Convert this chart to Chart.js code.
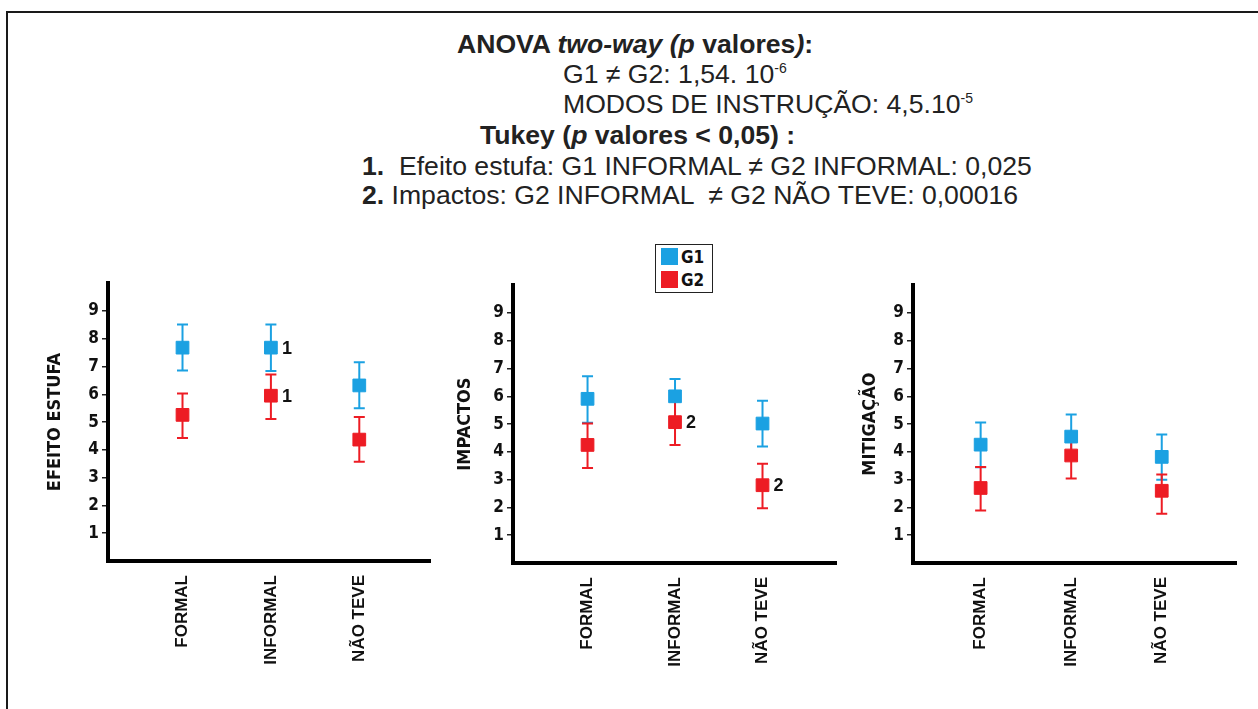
<!DOCTYPE html>
<html lang="pt">
<head>
<meta charset="utf-8">
<title>ANOVA two-way</title>
<script src="https://cdn.jsdelivr.net/npm/chart.js@4.4.1/dist/chart.umd.min.js"></script>
<style>
  html, body { margin: 0; padding: 0; background: #fff; }
  #page { position: relative; width: 1258px; height: 709px; overflow: hidden; background: #fff; }
  #frame { position: absolute; left: 6px; top: 11px; width: 1300px; height: 760px; border: 2px solid #1a1a1a; }
  .line { position: absolute; white-space: pre; font-family: 'Liberation Sans', Arial, sans-serif; font-size: 26.6px; color: #222; line-height: 30px; }
  .line b { font-weight: bold; }
  .line sup { font-size: 14px; vertical-align: 0; position: relative; top: -10px; }
  #legend { position: absolute; left: 655px; top: 244px; width: 56px; height: 47px; border: 1.5px solid #222; }
  .item { position: absolute; left: 5px; height: 18px; font: bold 17px 'Liberation Sans Narrow', 'DejaVu Sans Condensed', sans-serif; color: #111; line-height: 18px; }
  .item span { display: inline-block; width: 17px; height: 17px; vertical-align: top; margin-right: 3px; }
  canvas { position: absolute; }
</style>
</head>
<body>
<div id="page">
  <div id="frame"></div>
  <div class="line" style="left:457px; top:29px;"><b>ANOVA <i>two-way (p</i> valores<i>)</i>:</b></div>
  <div class="line" style="left:563px; top:59px;">G1 ≠ G2: 1,54. 10<sup>-6</sup></div>
  <div class="line" style="left:563px; top:89px;">MODOS DE INSTRUÇÃO: 4,5.10<sup>-5</sup></div>
  <div class="line" style="left:480px; top:120px;"><b>Tukey (<i>p</i> valores &lt; 0,05) :</b></div>
  <div class="line" style="left:362px; top:151px;"><b>1.</b>  Efeito estufa: G1 INFORMAL ≠ G2 INFORMAL: 0,025</div>
  <div class="line" style="left:362px; top:180px;"><b>2.</b> Impactos: G2 INFORMAL  ≠ G2 NÃO TEVE: 0,00016</div>
  <div id="legend"></div>
  <canvas id="efeito" width="412" height="420" style="left:28px; top:270px;"></canvas>
  <canvas id="impactos" width="413" height="420" style="left:433px; top:272px;"></canvas>
  <canvas id="mitigacao" width="413" height="420" style="left:833px; top:272px;"></canvas>
</div>
<script>
var categories = ['FORMAL', 'INFORMAL', 'NÃO TEVE'];
var seriesNames = ['G1', 'G2'];
var seriesColors = ['#1ba1e2', '#ed1c24'];

// EFEITO ESTUFA: means and error bar ends
var efeitoG1 = [7.68, 7.68, 6.32];
var efeitoG1Low = [6.86, 6.84, 5.50];
var efeitoG1High = [8.51, 8.51, 7.15];
var efeitoG2 = [5.26, 5.95, 4.37];
var efeitoG2Low = [4.43, 5.11, 3.57];
var efeitoG2High = [6.03, 6.71, 5.18];

// IMPACTOS
var impactosG1 = [5.91, 6.00, 5.02];
var impactosG1Low = [5.05, 5.20, 4.19];
var impactosG1High = [6.72, 6.62, 5.84];
var impactosG2 = [4.25, 5.07, 2.80];
var impactosG2Low = [3.42, 4.25, 1.97];
var impactosG2High = [5.02, 5.84, 3.57];

// MITIGAÇÃO
var mitigacaoG1 = [4.26, 4.55, 3.82];
var mitigacaoG1Low = [3.45, 3.75, 3.00];
var mitigacaoG1High = [5.06, 5.35, 4.63];
var mitigacaoG2 = [2.70, 3.87, 2.60];
var mitigacaoG2Low = [1.89, 3.04, 1.77];
var mitigacaoG2High = [3.46, 4.68, 3.19];

// Tukey labels next to the points
var efeitoMarksG1 = ['', '1', ''];
var efeitoMarksG2 = ['', '1', ''];
var impactosMarksG1 = ['', '', ''];
var impactosMarksG2 = ['', '2', '2'];
var mitigacaoMarksG1 = ['', '', ''];
var mitigacaoMarksG2 = ['', '', ''];

var yTicks = [1, 2, 3, 4, 5, 6, 7, 8, 9];
var narrow = "'Liberation Sans Narrow', 'DejaVu Sans Condensed', sans-serif";

// legend
var legend = document.getElementById('legend');
seriesNames.forEach(function (name, i) {
    var d = document.createElement('div');
    d.className = 'item';
    d.style.top = (3 + i * 23) + 'px';
    d.innerHTML = '<span style="background:' + seriesColors[i] + '"></span>' + name;
    legend.appendChild(d);
});

// vertical error bars, drawn under the markers
var errorBars = {
    id: 'errorBars',
    beforeDatasetsDraw: function (chart) {
        var ctx = chart.ctx, x = chart.scales.x, y = chart.scales.y;
        chart.data.datasets.forEach(function (ds) {
            ctx.save();
            ctx.strokeStyle = ds.borderColor;
            ctx.lineWidth = 2;
            ds.data.forEach(function (p) {
                var px = x.getPixelForValue(p.x);
                var top = y.getPixelForValue(p.high);
                var bot = y.getPixelForValue(p.low);
                ctx.beginPath();
                ctx.moveTo(px, top); ctx.lineTo(px, bot);
                ctx.moveTo(px - 5.5, top); ctx.lineTo(px + 5.5, top);
                ctx.moveTo(px - 5.5, bot); ctx.lineTo(px + 5.5, bot);
                ctx.stroke();
            });
            ctx.restore();
        });
    }
};

// "1" / "2" next to the significant means
var tukeyMarks = {
    id: 'tukeyMarks',
    afterDatasetsDraw: function (chart) {
        var ctx = chart.ctx, x = chart.scales.x, y = chart.scales.y;
        ctx.save();
        ctx.font = 'bold 18px "Liberation Sans", Arial, sans-serif';
        ctx.fillStyle = '#111';
        ctx.textAlign = 'left';
        ctx.textBaseline = 'middle';
        chart.data.datasets.forEach(function (ds) {
            ds.data.forEach(function (p) {
                if (p.mark) ctx.fillText(p.mark, x.getPixelForValue(p.x) + 11, y.getPixelForValue(p.y) + 1);
            });
        });
        ctx.restore();
    }
};

function points(means, low, high, marks) {
    return means.map(function (v, i) {
        return { x: i + 1, y: v, low: low[i], high: high[i], mark: marks[i] };
    });
}

function panel(id, title, g1, g2, xMin, xMax, titlePad) {
    new Chart(document.getElementById(id), {
        type: 'scatter',
        data: {
            datasets: [
                { label: seriesNames[0], data: g1, backgroundColor: seriesColors[0], borderColor: seriesColors[0] },
                { label: seriesNames[1], data: g2, backgroundColor: seriesColors[1], borderColor: seriesColors[1] }
            ]
        },
        options: {
            responsive: false,
            animation: false,
            events: [],
            layout: { padding: { top: 10, right: 8, left: 0, bottom: 0 } },
            elements: { point: { pointStyle: 'rect', radius: 9, borderWidth: 1 } },
            plugins: { legend: { display: false }, tooltip: { enabled: false } },
            scales: {
                x: {
                    type: 'linear',
                    min: xMin,
                    max: xMax,
                    afterBuildTicks: function (axis) {
                        axis.ticks = categories.map(function (c, i) { return { value: i + 1 }; });
                    },
                    afterFit: function (scale) { scale.height = 129; },
                    grid: { display: false, drawTicks: false },
                    border: { color: '#000', width: 4 },
                    ticks: {
                        autoSkip: false,
                        minRotation: 90,
                        maxRotation: 90,
                        padding: 14,
                        color: '#111',
                        font: { family: "'Liberation Sans', Arial, sans-serif", size: 17, weight: 'bold' },
                        callback: function (v) { return categories[v - 1]; }
                    }
                },
                y: {
                    min: 0,
                    max: 10,
                    afterBuildTicks: function (axis) {
                        axis.ticks = yTicks.map(function (v) { return { value: v }; });
                    },
                    afterFit: function (scale) { scale.width = 80; },
                    grid: { drawOnChartArea: false, drawTicks: true, tickLength: 6, color: '#222', lineWidth: 1.5 },
                    border: { color: '#000', width: 4 },
                    ticks: {
                        padding: 3,
                        color: '#111',
                        font: { family: narrow, size: 17, weight: 'bold' }
                    },
                    title: {
                        display: true,
                        text: title,
                        color: '#111',
                        padding: { top: titlePad, bottom: 0 },
                        font: { family: narrow, size: 18, weight: 'bold' }
                    }
                }
            }
        },
        plugins: [errorBars, tukeyMarks]
    });
}

panel('efeito', 'EFEITO ESTUFA',
    points(efeitoG1, efeitoG1Low, efeitoG1High, efeitoMarksG1),
    points(efeitoG2, efeitoG2Low, efeitoG2High, efeitoMarksG2),
    0.157, 3.80, 17);
panel('impactos', 'IMPACTOS',
    points(impactosG1, impactosG1Low, impactosG1High, impactosMarksG1),
    points(impactosG2, impactosG2Low, impactosG2High, impactosMarksG2),
    0.148, 3.84, 22);
panel('mitigacao', 'MITIGAÇÃO',
    points(mitigacaoG1, mitigacaoG1Low, mitigacaoG1High, mitigacaoMarksG1),
    points(mitigacaoG2, mitigacaoG2Low, mitigacaoG2High, mitigacaoMarksG2),
    0.253, 3.82, 27);
</script>
</body>
</html>
